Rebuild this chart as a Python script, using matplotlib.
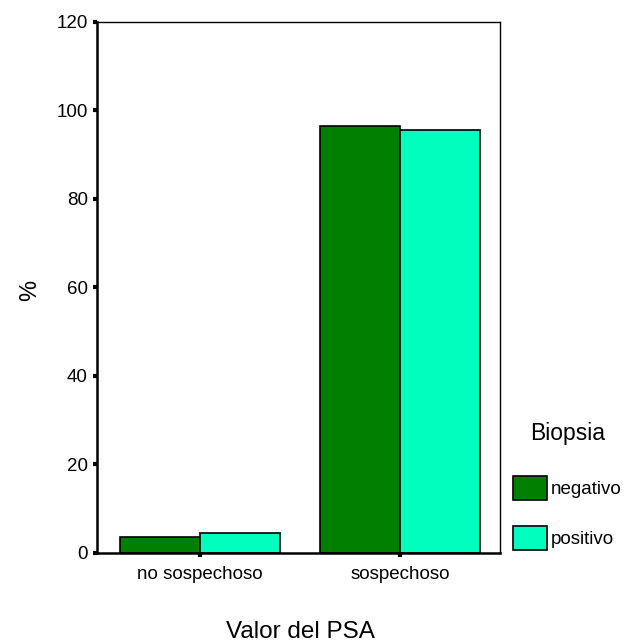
import matplotlib
matplotlib.use("Agg")
import matplotlib.pyplot as plt
import numpy as np
from matplotlib.patches import Patch

plt.rcParams['font.family'] = ['Liberation Sans', 'DejaVu Sans']

categories = ["no sospechoso", "sospechoso"]
series_names = ["negativo", "positivo"]
negativo = [3.5, 96.4]
positivo = [4.4, 95.5]
yticks = [0, 20, 40, 60, 80, 100, 120]
colors = ["#007F00", "#00FFBF"]

fig = plt.figure(figsize=(6.25, 6.44), dpi=100)
ax = fig.add_axes([97/625, 1-552.5/644, (500-97)/625, (552.5-22)/644])

x = np.arange(len(categories))
w = 0.4
ax.bar(x - w/2, negativo, w, color=colors[0], edgecolor="black", linewidth=1.2, label=series_names[0])
ax.bar(x + w/2, positivo, w, color=colors[1], edgecolor="black", linewidth=1.2, label=series_names[1])

ax.set_xlim(-0.515, 1.5)
ax.set_ylim(0, 120)
ax.set_yticks(yticks)
ax.set_yticklabels([str(t) for t in yticks])
ax.set_xticks(x)
ax.set_xticklabels(categories)
ax.tick_params(axis='both', direction='out', length=3, width=3, labelsize=13.5)
ax.tick_params(axis='y', pad=3.5)
ax.tick_params(axis='x', pad=7)
for s in ax.spines.values():
    s.set_linewidth(1.0)
ax.spines['left'].set_linewidth(1.8)
ax.spines['bottom'].set_linewidth(1.8)

fig.text(30/625, 1-290/644, "%", fontsize=17, ha='center', va='center', rotation=90)
fig.text(300/625, 1-632/644, "Valor del PSA", fontsize=17.5, ha='center', va='center')

handles = [Patch(facecolor=colors[i], edgecolor='black', linewidth=1.2) for i in range(2)]
leg = fig.legend(handles, series_names, loc='upper left', bbox_to_anchor=(513/625, 1-422/644),
                 frameon=False, fontsize=13.5, title="Biopsia", title_fontsize=16.5,
                 handlelength=1.8, handleheight=1.65, handletextpad=0.2, labelspacing=1.35,
                 borderpad=0.0, borderaxespad=0.0)
leg._legend_box.align = "center"
leg._legend_box.sep = 22

fig.savefig("out.png", dpi=100)
